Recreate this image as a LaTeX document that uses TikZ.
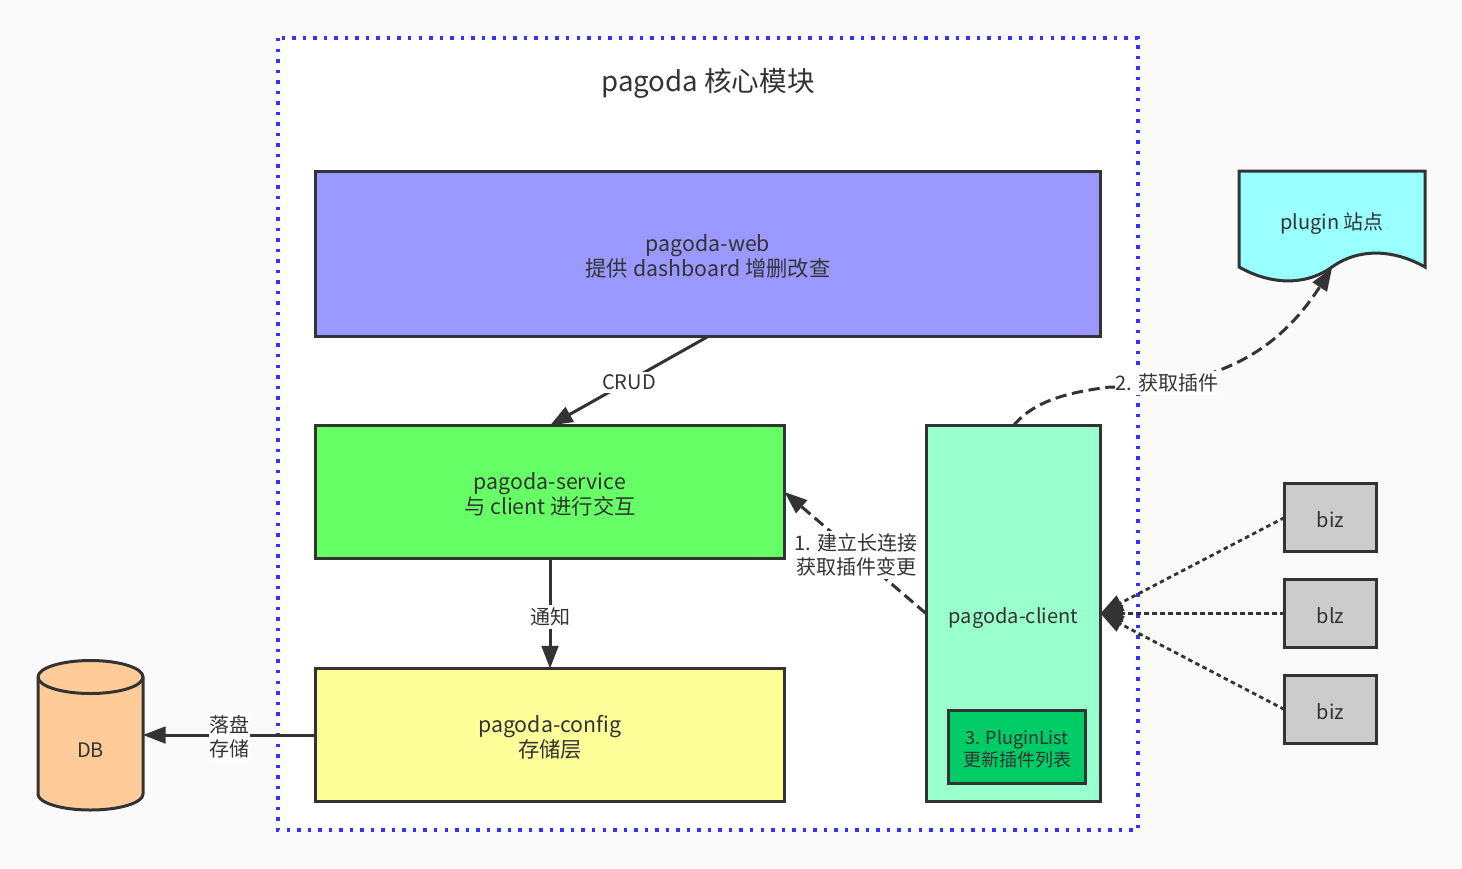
\documentclass[tikz,border=0pt]{standalone}
\usepackage{fontspec}
\setmainfont{Noto Sans CJK SC}
\usetikzlibrary{arrows.meta}
\definecolor{ink}{HTML}{333333}
\definecolor{pagebg}{HTML}{FAFAFA}
\definecolor{blueline}{HTML}{3333FF}
\definecolor{webfill}{HTML}{9999FF}
\definecolor{servicefill}{HTML}{66FF66}
\definecolor{configfill}{HTML}{FFFF99}
\definecolor{clientfill}{HTML}{99FFCC}
\definecolor{listfill}{HTML}{00CC66}
\definecolor{bizfill}{HTML}{CCCCCC}
\definecolor{docfill}{HTML}{99FFFF}
\definecolor{dbfill}{HTML}{FFCC99}
\tikzset{
  box/.style={draw=ink,line width=2.25pt,rectangle,inner sep=0pt,outer sep=0pt},
  boxtext/.style={inner sep=0pt,outer sep=0pt,align=center,text=ink,yshift=-1.5pt,font=\fontsize{15}{18.75}\selectfont},
  bigtext/.style={boxtext,font=\fontsize{16}{18.75}\selectfont},
  smalltext/.style={boxtext,font=\fontsize{13.5}{16.5}\selectfont},
  ghost/.style={rectangle,inner sep=0pt,outer sep=0pt},
  conn/.style={draw=ink,line width=2.25pt},
  head/.style={-{Triangle[length=17pt,width=12.5pt,fill=ink]}},
  dashline/.style={dash pattern=on 8.5pt off 4.2pt},
  dotline/.style={line width=2.1pt,dash pattern=on 3.4pt off 2.6pt},
  lab/.style={fill=white,inner xsep=0.5pt,inner ysep=2pt,text=ink,align=center,font=\fontsize{15}{18}\selectfont},
}
\begin{document}
\begin{tikzpicture}[x=0.75pt,y=-0.75pt]
\useasboundingbox[fill=pagebg] (0,0) rectangle (1462,868);
\draw[draw=blueline,fill=white,line width=2.6pt,dash pattern=on 2.6pt off 5.3pt] (278,38) rectangle (1138,830);
\node[text=ink,font=\fontsize{20.7}{24}\selectfont] (title) at (708,83) {pagoda 核心模块};
\node[box,fill=webfill,minimum width=588.75pt,minimum height=123.75pt,label={[bigtext]center:{pagoda-web\\提供 dashboard 增删改查}}] (web) at (708,254) {};
\node[box,fill=servicefill,minimum width=351.75pt,minimum height=99.75pt,label={[bigtext]center:{pagoda-service\\与 client 进行交互}}] (service) at (550,492) {};
\node[box,fill=configfill,minimum width=351.75pt,minimum height=99.75pt,label={[bigtext]center:{pagoda-config\\存储层}}] (config) at (550,735) {};
\node[box,fill=clientfill,minimum width=130.5pt,minimum height=282pt,label={[boxtext,yshift=-2.25pt]center:{pagoda-client}}] (client) at (1013.5,613.5) {};
\node[box,fill=listfill,minimum width=102.75pt,minimum height=54.75pt,label={[smalltext]center:{3. PluginList\\更新插件列表}}] (list) at (1017,747) {};
\node[box,fill=bizfill,minimum width=69pt,minimum height=51pt,label={[boxtext]center:{biz}}] (biza) at (1330.5,517.5) {};
\node[box,fill=bizfill,minimum width=69pt,minimum height=51pt,label={[boxtext]center:{blz}}] (bizb) at (1330.5,613.5) {};
\node[box,fill=bizfill,minimum width=69pt,minimum height=51pt,label={[boxtext]center:{biz}}] (bizc) at (1330.5,709.5) {};
% plugin document
\draw[draw=ink,fill=docfill,line width=2.25pt,line join=miter] (1239,171) -- (1425,171) -- (1425,267)
  .. controls (1395,250) and (1360,247) .. (1332,267)
  .. controls (1304,287) and (1269,284) .. (1239,267) -- cycle;
\node[ghost,minimum width=139.5pt,minimum height=72pt,label={[boxtext,yshift=-2.25pt]center:{plugin 站点}}] (plugin) at (1332,219) {};
\coordinate (pluginbottom) at (1332,268);
% database cylinder
\draw[draw=ink,fill=dbfill,line width=2.25pt] (38,677) arc[start angle=180,end angle=360,x radius=52.5,y radius=16.5]
  -- (143,794) arc[start angle=0,end angle=180,x radius=52.5,y radius=16] -- cycle;
\draw[draw=ink,line width=2.25pt] (38,677) arc[start angle=180,end angle=0,x radius=52.5,y radius=16.5];
\node[ghost,minimum width=78.75pt,minimum height=111.75pt,label={[boxtext,yshift=-9.5pt]center:{DB}}] (db) at (90.5,735) {};
% connectors
\draw[conn,head] (web.south) -- node[lab,pos=0.5,yshift=-1pt] {CRUD} (service.north);
\draw[conn,head] (service.south) -- node[lab,pos=0.52,yshift=-0.75pt] {通知} (config.north);
\draw[conn,head] (config.west) -- node[lab,pos=0.5,yshift=-1.5pt] {落盘\\存储} (db.east);
\coordinate (clientwest) at (926,613.5);
\draw[conn,dashline,head] (clientwest) -- (service.east);
\node[lab] (l1) at (856,555) {1. 建立长连接\\获取插件变更};
\coordinate (mid2) at (1110,387);
\draw[conn,dashline,head] (client.north) .. controls (1035,400) and (1070,392) .. (mid2)
  .. controls (1225,388) and (1282,345) .. (pluginbottom);
\node[lab] (l2) at (1167,383) {2. 获取插件};
\draw[conn,dotline,head] (biza.west) -- (client.east);
\draw[conn,dotline,head] (bizb.west) -- (client.east);
\draw[conn,dotline,head] (bizc.west) -- (client.east);
\end{tikzpicture}
\end{document}
